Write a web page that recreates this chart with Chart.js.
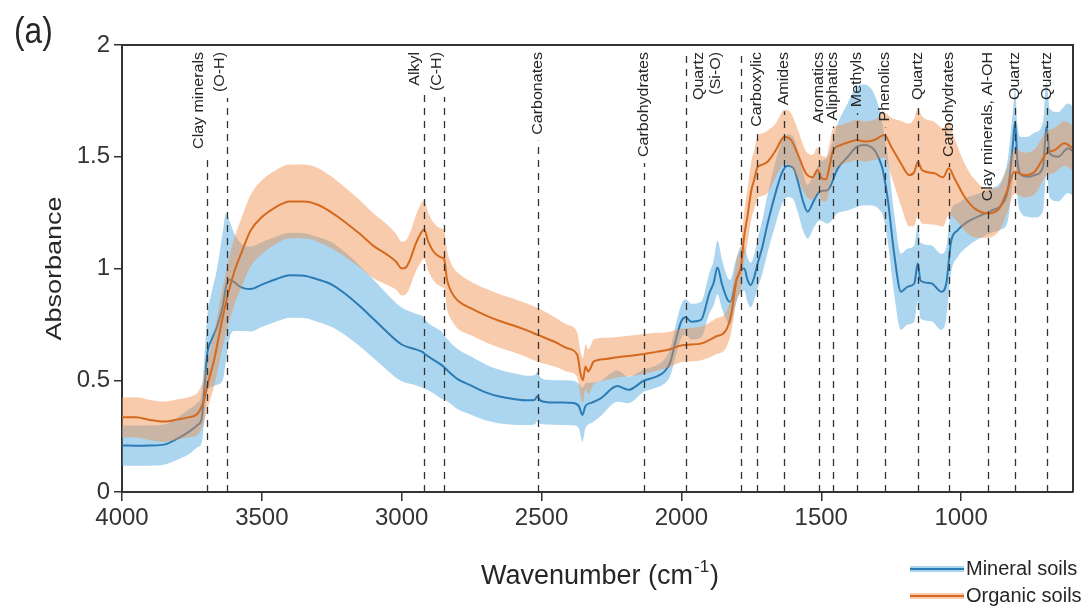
<!DOCTYPE html>
<html>
<head>
<meta charset="utf-8">
<script src="https://cdn.jsdelivr.net/npm/chart.js@4.4.1/dist/chart.umd.min.js"></script>
<style>
html,body{margin:0;padding:0;background:#fff;}
#wrap{width:1088px;height:608px;}
</style>
</head>
<body>
<div id="wrap"><canvas id="c" width="1088" height="608"></canvas></div>
<script>
// ---------- data ----------
const xTicks = [1000, 1500, 2000, 2500, 3000, 3500, 4000];
const xTickLabels = ['1000', '1500', '2000', '2500', '3000', '3500', '4000'];
const yTicks = [0, 0.5, 1, 1.5, 2];
const yTickLabels = ['0', '0.5', '1', '1.5', '2'];

const mineralWn = [4000,3950,3900,3850,3800,3760,3730,3715,3705,3695,3680,3660,3640,3628,3615,3600,3580,3560,3540,3500,3450,3400,3350,3300,3250,3200,3150,3100,3050,3000,2950,2925,2915,2900,2860,2850,2840,2800,2750,2700,2650,2600,2550,2525,2515,2505,2480,2430,2385,2366,2354,2343,2320,2290,2229,2190,2134,2090,2060,2040,2020,2000,1985,1965,1930,1900,1885,1871,1855,1835,1825,1805,1788,1775,1764,1752,1740,1728,1710,1692,1662,1640,1620,1600,1585,1565,1549,1525,1505,1477,1441,1405,1373,1346,1310,1290,1280,1262,1238,1215,1191,1167,1155,1145,1107,1071,1053,1036,1012,976,928,892,856,833,815,807,799,785,760,737,707,695,683,653,618,600];
const mineralMean = [0.208,0.207,0.208,0.212,0.240,0.270,0.300,0.330,0.470,0.620,0.680,0.740,0.830,0.920,0.950,0.940,0.920,0.910,0.908,0.928,0.952,0.970,0.968,0.951,0.928,0.885,0.832,0.773,0.713,0.660,0.638,0.626,0.615,0.602,0.570,0.560,0.548,0.505,0.475,0.446,0.427,0.416,0.410,0.412,0.428,0.410,0.402,0.400,0.398,0.383,0.345,0.385,0.400,0.418,0.474,0.457,0.498,0.516,0.540,0.580,0.680,0.765,0.782,0.762,0.770,0.890,0.935,1.005,0.930,0.860,0.850,0.940,0.995,1.000,0.950,0.926,0.960,1.020,1.100,1.200,1.344,1.430,1.460,1.450,1.396,1.300,1.254,1.307,1.345,1.351,1.448,1.500,1.545,1.553,1.530,1.480,1.440,1.307,1.053,0.896,0.919,0.934,1.023,0.945,0.934,0.896,0.934,1.120,1.172,1.210,1.239,1.259,1.284,1.351,1.553,1.657,1.485,1.418,1.410,1.418,1.456,1.635,1.515,1.500,1.538,1.525];
const mineralSd = [0.09,0.09,0.09,0.09,0.095,0.10,0.10,0.11,0.14,0.17,0.21,0.26,0.33,0.33,0.26,0.22,0.20,0.19,0.19,0.19,0.19,0.19,0.19,0.19,0.19,0.185,0.18,0.175,0.17,0.165,0.16,0.16,0.155,0.15,0.15,0.145,0.14,0.135,0.13,0.125,0.12,0.115,0.11,0.11,0.11,0.105,0.10,0.10,0.10,0.10,0.12,0.10,0.09,0.08,0.07,0.06,0.05,0.05,0.055,0.06,0.07,0.075,0.08,0.08,0.08,0.09,0.10,0.12,0.11,0.10,0.10,0.10,0.10,0.10,0.10,0.10,0.10,0.11,0.12,0.13,0.14,0.14,0.14,0.14,0.14,0.13,0.12,0.12,0.13,0.15,0.20,0.24,0.27,0.27,0.25,0.22,0.20,0.19,0.18,0.17,0.17,0.17,0.17,0.17,0.17,0.17,0.16,0.14,0.12,0.11,0.10,0.10,0.11,0.14,0.15,0.15,0.16,0.17,0.18,0.19,0.20,0.20,0.20,0.20,0.20,0.20];

const organicWn = [4000,3950,3900,3850,3800,3760,3730,3710,3690,3670,3650,3626,3600,3570,3540,3500,3450,3400,3350,3300,3250,3200,3150,3100,3050,3020,3000,2985,2970,2950,2935,2920,2905,2886,2860,2848,2838,2820,2800,2750,2700,2650,2600,2550,2514,2450,2408,2372,2361,2352,2343,2333,2313,2270,2229,2180,2134,2090,2050,2003,1985,1928,1878,1840,1821,1803,1788,1775,1764,1750,1740,1728,1710,1692,1662,1645,1632,1608,1585,1555,1531,1513,1499,1483,1470,1459,1429,1394,1373,1346,1310,1274,1250,1215,1185,1167,1155,1140,1095,1065,1044,1024,988,952,907,868,839,809,773,737,695,665,630,600];
const organicMean = [0.334,0.334,0.322,0.315,0.325,0.335,0.350,0.400,0.500,0.594,0.720,0.860,0.980,1.080,1.170,1.230,1.275,1.300,1.300,1.285,1.250,1.205,1.155,1.100,1.060,1.030,1.000,1.005,1.040,1.110,1.150,1.175,1.120,1.075,1.050,1.040,0.950,0.890,0.857,0.820,0.790,0.765,0.745,0.722,0.703,0.670,0.643,0.613,0.531,0.500,0.561,0.539,0.584,0.595,0.603,0.610,0.617,0.627,0.635,0.655,0.658,0.665,0.695,0.725,0.800,0.949,1.000,1.150,1.232,1.350,1.396,1.453,1.465,1.478,1.530,1.570,1.590,1.575,1.515,1.426,1.408,1.441,1.404,1.399,1.460,1.523,1.553,1.568,1.575,1.568,1.575,1.597,1.545,1.470,1.418,1.433,1.478,1.441,1.426,1.408,1.448,1.404,1.321,1.269,1.247,1.262,1.336,1.433,1.418,1.433,1.515,1.530,1.560,1.538];
const organicSd = [0.09,0.09,0.09,0.09,0.09,0.09,0.095,0.10,0.11,0.12,0.13,0.14,0.15,0.155,0.16,0.165,0.165,0.165,0.165,0.165,0.16,0.155,0.15,0.145,0.135,0.125,0.12,0.12,0.12,0.125,0.13,0.13,0.13,0.13,0.13,0.13,0.13,0.125,0.125,0.12,0.12,0.12,0.12,0.12,0.12,0.11,0.105,0.10,0.10,0.10,0.10,0.10,0.10,0.095,0.09,0.09,0.09,0.085,0.08,0.075,0.075,0.075,0.08,0.08,0.08,0.09,0.10,0.11,0.12,0.13,0.13,0.14,0.14,0.14,0.12,0.12,0.12,0.12,0.11,0.10,0.10,0.10,0.10,0.10,0.10,0.10,0.09,0.09,0.09,0.09,0.09,0.10,0.13,0.19,0.23,0.24,0.24,0.24,0.23,0.22,0.21,0.18,0.15,0.13,0.11,0.10,0.10,0.10,0.10,0.10,0.10,0.10,0.10,0.10];

const bandWn = [3696,3626,2922,2850,2514,2134,1985,1788,1728,1632,1507,1459,1372,1271,1155,1042,904,809,692];
const bandLabel = ['Clay minerals','(O-H)','Alkyl','(C-H)','Carbonates','Carbohydrates','Quartz','(Si-O)','Carboxylic','Amides','Aromatics','Aliphatics','Methyls','Phenolics','Quartz','Carbohydrates','Clay minerals, Al-OH','Quartz','Quartz'];

const seriesNames = ['Mineral soils', 'Organic soils'];

// ---------- styles ----------
const FONT = "'Liberation Sans', Arial, Helvetica, sans-serif";
const blueLine = '#2b7bb5', blueFill = 'rgba(70,165,220,0.45)';
const orangeLine = '#d4691f', orangeFill = 'rgba(240,140,70,0.45)';
const ink = '#262626';
// pixel offsets of each band label relative to its line (style only)
const labelDx = [-8,-7,-9,-7,0,0,13,-25,0,0,0,0,0,0,0,0,0,0,0];

function pts(wn, arr, sd, k) { return wn.map((w, i) => ({x: w, y: arr[i] + k * (sd ? sd[i] : 0)})); }

const lineBase = {pointRadius: 0, cubicInterpolationMode: 'monotone'};

const datasets = [
  Object.assign({label: 'org+', data: pts(organicWn, organicMean, organicSd, 1), borderWidth: 0, backgroundColor: orangeFill, fill: '+1', order: 1}, lineBase),
  Object.assign({label: 'org-', data: pts(organicWn, organicMean, organicSd, -1), borderWidth: 0, fill: false, order: 1}, lineBase),
  Object.assign({label: 'min+', data: pts(mineralWn, mineralMean, mineralSd, 1), borderWidth: 0, backgroundColor: blueFill, fill: '+1', order: 3}, lineBase),
  Object.assign({label: 'min-', data: pts(mineralWn, mineralMean, mineralSd, -1), borderWidth: 0, fill: false, order: 3}, lineBase),
  Object.assign({label: seriesNames[0], data: pts(mineralWn, mineralMean, null, 0), borderColor: blueLine, borderWidth: 2, fill: false, order: 2}, lineBase),
  Object.assign({label: seriesNames[1], data: pts(organicWn, organicMean, null, 0), borderColor: orangeLine, borderWidth: 2, fill: false, order: 0}, lineBase)
];

const decor = {
  id: 'decor',
  afterDatasetsDraw(chart) {
    const ctx = chart.ctx, xs = chart.scales.x, ca = chart.chartArea;
    ctx.save();
    ctx.font = '16px ' + FONT;
    for (let i = 0; i < bandWn.length; i++) {
      const x = Math.round(xs.getPixelForValue(bandWn[i])) + 0.5;
      const lab = bandLabel[i], dx = labelDx[i];
      const L = lab ? ctx.measureText(lab).width : 0;
      const top = (lab && Math.abs(dx) <= 10) ? ca.top + 7 + L + 6 : ca.top + 6;
      ctx.setLineDash([7, 6]);
      ctx.strokeStyle = '#333';
      ctx.lineWidth = 1.3;
      ctx.beginPath();
      ctx.moveTo(x, ca.bottom);
      ctx.lineTo(x, top);
      ctx.stroke();
      if (lab) {
        ctx.save();
        ctx.setLineDash([]);
        ctx.translate(x + dx, ca.top + 7);
        ctx.scale(0.88, 1);
        ctx.rotate(-Math.PI / 2);
        ctx.fillStyle = ink;
        ctx.textAlign = 'right';
        ctx.textBaseline = 'middle';
        ctx.fillText(lab, 0, 0);
        ctx.restore();
      }
    }
    ctx.restore();
  },
  afterDraw(chart) {
    const ctx = chart.ctx, ca = chart.chartArea;
    ctx.save();
    // box top and right
    ctx.strokeStyle = '#333';
    ctx.lineWidth = 2;
    ctx.beginPath();
    ctx.moveTo(ca.left, ca.top);
    ctx.lineTo(ca.right, ca.top);
    ctx.lineTo(ca.right, ca.bottom);
    ctx.stroke();
    ctx.fillStyle = ink;
    // (a)
    ctx.save();
    ctx.translate(14, 33);
    ctx.scale(0.88, 1);
    ctx.font = '36px ' + FONT;
    ctx.textAlign = 'left';
    ctx.textBaseline = 'middle';
    ctx.fillText('(a)', 0, 0);
    ctx.restore();
    // y title
    ctx.save();
    ctx.translate(55, (ca.top + ca.bottom) / 2);
    ctx.scale(0.85, 1);
    ctx.rotate(-Math.PI / 2);
    ctx.font = '27px ' + FONT;
    ctx.textAlign = 'center';
    ctx.textBaseline = 'middle';
    ctx.fillText('Absorbance', 0, 0);
    ctx.restore();
    // x title with superscript
    ctx.save();
    const main = 'Wavenumber (cm', sup = '-1', close = ')';
    ctx.font = '27px ' + FONT;
    const w1 = ctx.measureText(main).width, w3 = ctx.measureText(close).width;
    ctx.font = '17px ' + FONT;
    const w2 = ctx.measureText(sup).width;
    const tot = w1 + w2 + w3 + 2;
    let x0 = 600 - tot / 2;
    const yb = 584;
    ctx.textBaseline = 'alphabetic';
    ctx.textAlign = 'left';
    ctx.font = '27px ' + FONT;
    ctx.fillText(main, x0, yb);
    ctx.font = '17px ' + FONT;
    ctx.fillText(sup, x0 + w1 + 1, yb - 12);
    ctx.font = '27px ' + FONT;
    ctx.fillText(close, x0 + w1 + w2 + 2, yb);
    ctx.restore();
    // legend
    const items = [[blueLine, blueFill, seriesNames[0], 569], [orangeLine, orangeFill, seriesNames[1], 596]];
    for (const it of items) {
      ctx.fillStyle = it[1];
      ctx.fillRect(910, it[3] - 3, 54, 6);
      ctx.strokeStyle = it[0];
      ctx.lineWidth = 2;
      ctx.beginPath();
      ctx.moveTo(910, it[3]);
      ctx.lineTo(964, it[3]);
      ctx.stroke();
      ctx.fillStyle = ink;
      ctx.font = '20px ' + FONT;
      ctx.textAlign = 'left';
      ctx.textBaseline = 'middle';
      ctx.fillText(it[2], 966, it[3]);
    }
    ctx.restore();
  }
};

new Chart(document.getElementById('c'), {
  type: 'line',
  data: {datasets},
  plugins: [decor],
  options: {
    responsive: false,
    animation: false,
    devicePixelRatio: 1,
    layout: {padding: {left: 0, right: 15, top: 45, bottom: 0}},
    plugins: {legend: {display: false}, tooltip: {enabled: false}},
    scales: {
      x: {
        type: 'linear', reverse: true, min: 600, max: 4000,
        afterBuildTicks: s => { s.ticks = xTicks.map(v => ({value: v})); },
        afterFit: s => { s.height = 116; },
        ticks: {font: {family: FONT, size: 24}, color: '#333', padding: 3, maxRotation: 0, autoSkip: false,
                callback: (v) => xTickLabels[xTicks.indexOf(v)]},
        grid: {drawOnChartArea: false, drawTicks: true, tickLength: 9, color: '#333', lineWidth: 1.5},
        border: {color: '#333', width: 2}
      },
      y: {
        type: 'linear', min: 0, max: 2,
        afterBuildTicks: s => { s.ticks = yTicks.map(v => ({value: v})); },
        afterFit: s => { s.width = 122; },
        ticks: {font: {family: FONT, size: 24}, color: '#333', padding: 4, callback: (v) => yTickLabels[yTicks.indexOf(v)]},
        grid: {drawOnChartArea: false, drawTicks: true, tickLength: 8, color: '#333', lineWidth: 1.5},
        border: {color: '#333', width: 2}
      }
    }
  }
});
</script>
</body>
</html>
